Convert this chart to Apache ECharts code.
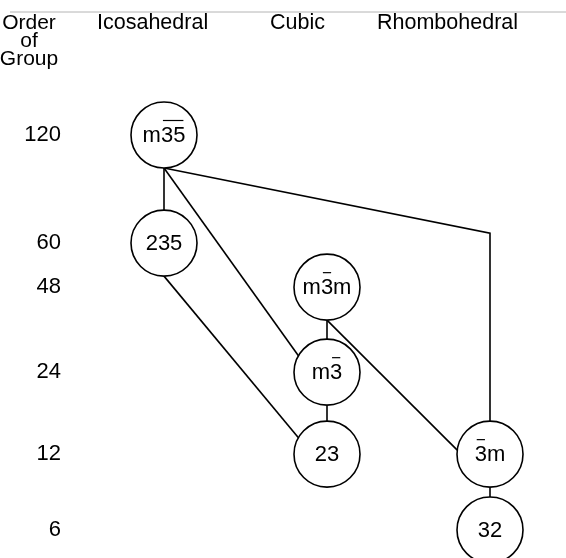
<!DOCTYPE html>
<html><head><meta charset="utf-8">
<style>html,body{margin:0;padding:0;background:#fff}#c{width:566px;height:558px}</style>
<script src="https://cdn.jsdelivr.net/npm/echarts@6/dist/echarts.min.js"></script>
</head><body><div id="c"></div>
<script>
// ---------------- data ----------------
const families = ['Icosahedral', 'Cubic', 'Rhombohedral'];
const orders = [120, 60, 48, 24, 12, 6];
// vertical slot of each order row, as spaced in the original diagram
const orderSlot = [0, 2.48, 3.49, 5.44, 7.32, 9.06];
// point-group symbols; U+0305 marks an overbarred digit
const groupNames  = ['m3\u03055\u0305', '235', 'm3\u0305m', 'm3\u0305', '23', '3\u0305m', '32'];
const groupFamily = ['Icosahedral', 'Icosahedral', 'Cubic', 'Cubic', 'Cubic', 'Rhombohedral', 'Rhombohedral'];
const groupOrder  = [120, 60, 48, 24, 12, 12, 6];
// group–subgroup links
const linkFrom = ['m3\u03055\u0305', 'm3\u03055\u0305', 'm3\u03055\u0305', '235', 'm3\u0305m', 'm3\u0305m', 'm3\u0305', '3\u0305m'];
const linkTo   = ['235', 'm3\u0305', '3\u0305m', '23', 'm3\u0305', '3\u0305m', '23', '32'];
const linkViaOrder = [null, null, 60, null, null, null, null, null]; // link bends at this order row in target column

// ---------------- styles ----------------
const FONT = '"Liberation Sans", Arial, Helvetica, sans-serif';
const R = 33;                 // circle radius px
const LW = 1.6;
const arriveDeg = [90, 30, 90, 30, 90, 7, 90, 90]; // where a link meets the target circle (90 = top)
const bendLift = 10;
const headerPos = [[97, 14], [270, 14], [377, 14]];

// ---------------- build ----------------
const slotOf = o => orderSlot[orders.indexOf(o)];
const famIdx = f => families.indexOf(f);
const gIdx = n => groupNames.indexOf(n);

const nodeData = groupNames.map((n, i) => [famIdx(groupFamily[i]), slotOf(groupOrder[i]), i]);
const linkData = linkFrom.map((s, i) => {
  const a = gIdx(s), b = gIdx(linkTo[i]);
  return [famIdx(groupFamily[a]), slotOf(groupOrder[a]), famIdx(groupFamily[b]), slotOf(groupOrder[b]),
          linkViaOrder[i] == null ? -1 : slotOf(linkViaOrder[i])];
});

const mctx = document.createElement('canvas').getContext('2d');
const NODE_FS = 22;
mctx.font = NODE_FS + 'px ' + FONT;

function parseSym(s) {
  const out = [];
  for (let i = 0; i < s.length; i++) {
    if (s[i] === '\u0305') { out[out.length - 1].bar = true; continue; }
    out.push({ ch: s[i], bar: false });
  }
  return out;
}

const chart = echarts.init(document.getElementById('c'), null, { renderer: 'canvas' });
chart.setOption({
  backgroundColor: '#fff',
  animation: false,
  grid: { left: 164, width: 326, top: 135, bottom: 558 - 135 - 395 },
  xAxis: { type: 'category', data: families, boundaryGap: false, show: false },
  yAxis: {
    type: 'value', inverse: true, min: 0, max: orderSlot[orderSlot.length - 1],
    axisLine: { show: false }, axisTick: { show: false }, splitLine: { show: false },
    axisLabel: {
      show: true, customValues: orderSlot, margin: 103,
      fontSize: 22, fontFamily: FONT, color: '#000',
      formatter: v => { let k = 0; orderSlot.forEach((s, i) => { if (Math.abs(s - v) < 1e-6) k = i; }); return String(orders[k]); }
    }
  },
  graphic: [
    { type: 'line', shape: { x1: 10, y1: 12, x2: 566, y2: 12 }, style: { stroke: '#b4b4b4', lineWidth: 1 } },
    { type: 'text', x: 29, y: 14, style: { text: 'Order\nof\nGroup', fontSize: 21, fontFamily: FONT, fill: '#000', align: 'center', verticalAlign: 'top', lineHeight: 18 } },
    ...families.map((f, i) => ({ type: 'text', x: headerPos[i][0], y: headerPos[i][1],
      style: { text: f, fontSize: 21.5, fontFamily: FONT, fill: '#000', align: 'left', verticalAlign: 'top', lineHeight: 18 } }))
  ],
  series: [
    {
      type: 'custom', name: 'links', z: 1, clip: false, data: linkData,
      renderItem: (params, api) => {
        const s = api.coord([api.value(0), api.value(1)]);
        const t = api.coord([api.value(2), api.value(3)]);
        const via = api.value(4);
        const th = arriveDeg[params.dataIndex] * Math.PI / 180;
        const p0 = [s[0], s[1] + R];
        const pe = [t[0] - R * Math.cos(th), t[1] - R * Math.sin(th)];
        const pts = [p0];
        if (via >= 0) { const v = api.coord([api.value(2), via]); pts.push([v[0], v[1] - bendLift]); }
        pts.push(pe);
        return { type: 'polyline', shape: { points: pts }, style: { stroke: '#000', lineWidth: LW, fill: null } };
      }
    },
    {
      type: 'custom', name: 'groups', z: 2, clip: false, data: nodeData,
      renderItem: (params, api) => {
        const c = api.coord([api.value(0), api.value(1)]);
        const parts = parseSym(groupNames[api.value(2)]);
        const plain = parts.map(p => p.ch).join('');
        const total = mctx.measureText(plain).width;
        const children = [
          { type: 'circle', shape: { cx: c[0], cy: c[1], r: R }, style: { fill: '#fff', stroke: '#000', lineWidth: LW } },
          { type: 'text', x: c[0], y: c[1] + 1, style: { text: plain, fontSize: NODE_FS, fontFamily: FONT, fill: '#000', align: 'center', verticalAlign: 'middle' } }
        ];
        let x = c[0] - total / 2;
        let i = 0;
        while (i < parts.length) {
          const w = mctx.measureText(parts[i].ch).width;
          if (parts[i].bar) {
            let j = i, x2 = x;
            while (j < parts.length && parts[j].bar) { x2 += mctx.measureText(parts[j].ch).width; j++; }
            children.push({ type: 'line', shape: { x1: x + 2, y1: c[1] - 14.5, x2: x2 - 2, y2: c[1] - 14.5 }, style: { stroke: '#000', lineWidth: 1.2 } });
            x = x2; i = j; continue;
          }
          x += w; i++;
        }
        return { type: 'group', children };
      }
    }
  ]
});
</script></body></html>
